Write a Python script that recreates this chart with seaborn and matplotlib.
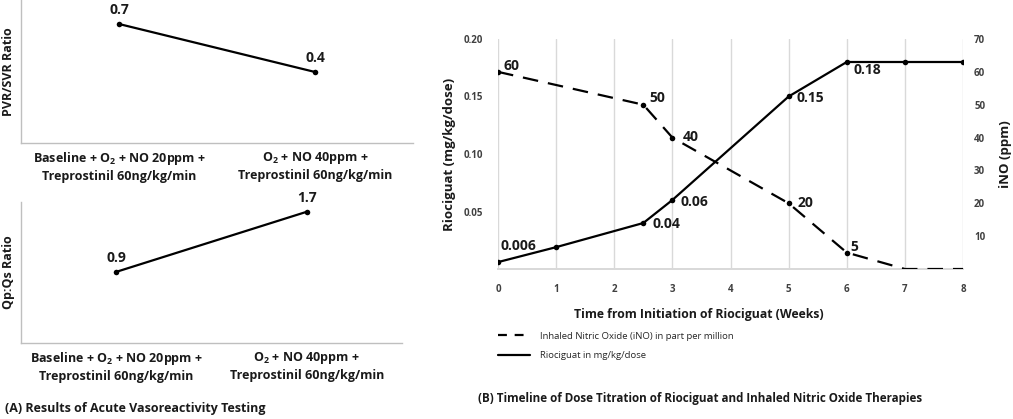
import matplotlib
matplotlib.use("Agg")
import matplotlib.pyplot as plt
import seaborn as sns
import pandas as pd
from matplotlib.lines import Line2D

sns.set_theme(style="white")
plt.rcParams['font.family'] = ['Open Sans', 'DejaVu Sans']

# ---------------- data ----------------
conditions = ["Baseline + O$_2$ + NO 20ppm +\nTreprostinil 60ng/kg/min",
              "O$_2$ + NO 40ppm +\nTreprostinil 60ng/kg/min"]
pvr_svr = [0.7, 0.4]
qp_qs = [0.9, 1.7]

weeks_rio = [0, 1, 2.5, 3, 5, 6, 7, 8]
riociguat = [0.006, 0.019, 0.04, 0.06, 0.15, 0.18, 0.18, 0.18]
rio_labels = ["0.006", "", "0.04", "0.06", "0.15", "0.18", "", ""]

weeks_ino = [0, 2.5, 3, 5, 6, 7, 8]
ino_ppm = [60, 50, 40, 20, 5, 0, 0]
ino_labels = ["60", "50", "40", "20", "5", "", ""]
ino_marked = [True, True, True, True, True, False, False]

x_ticks = [0, 1, 2, 3, 4, 5, 6, 7, 8]
left_ticks = [0.05, 0.10, 0.15, 0.20]
right_ticks = [10, 20, 30, 40, 50, 60, 70]

# ---------------- figure ----------------
W, H = 1013, 419
fig = plt.figure(figsize=(W / 100, H / 100), dpi=100)
plt.rcParams['mathtext.fontset'] = 'custom'
plt.rcParams['mathtext.rm'] = 'Open Sans:bold'
plt.rcParams['mathtext.bf'] = 'Open Sans:bold'
plt.rcParams['mathtext.default'] = 'bf'

def rect(x0, y0, x1, y1):
    return [x0 / W, 1 - y1 / H, (x1 - x0) / W, (y1 - y0) / H]

grey_spine = "#bfbfbf"
txt = "#1a1a1a"

# ---- Panel A ----
def panel_a(ax, vals, ylab, ylim):
    df = pd.DataFrame({"x": [0, 1], "y": vals})
    sns.lineplot(data=df, x="x", y="y", ax=ax, color="black", lw=1.6,
                 marker="o", markersize=4, markeredgewidth=0)
    for xi, v in zip(df["x"], df["y"]):
        ax.annotate(f"{v:.1f}", (xi, v), xytext=(0, 7), textcoords="offset pixels",
                    ha="center", va="bottom", fontsize=10, fontweight="bold", color=txt)
    ax.set_xlim(-0.5, 1.5)
    ax.set_ylim(*ylim)
    ax.set_xticks([0, 1])
    ax.set_xticklabels(conditions, fontsize=9, fontweight="bold", color=txt, linespacing=1.3)
    ax.set_yticks([])
    ax.set_xlabel("")
    ax.set_ylabel(ylab, fontsize=9, fontweight="bold", color=txt, labelpad=4)
    ax.tick_params(axis="x", length=0, pad=5)
    for s in ["top", "right"]:
        ax.spines[s].set_visible(False)
    for s in ["left", "bottom"]:
        ax.spines[s].set_color(grey_spine)
        ax.spines[s].set_linewidth(1.0)

ax1 = fig.add_axes(rect(21, 0, 413, 143))
panel_a(ax1, pvr_svr, "PVR/SVR Ratio", (-0.044, 0.85))
ax2 = fig.add_axes(rect(21, 202, 402, 343))
panel_a(ax2, qp_qs, "Qp:Qs Ratio", (-0.047, 1.83))

fig.text(5 / W, 1 - 408 / H, "(A) Results of Acute Vasoreactivity Testing",
         fontsize=9, fontweight="bold", color=txt, va="center", ha="left")

# ---- Panel B ----
axb = fig.add_axes(rect(498, 39, 963, 269))
axr = axb.twinx()

df_rio = pd.DataFrame({"week": weeks_rio, "dose": riociguat})
df_ino = pd.DataFrame({"week": weeks_ino, "ppm": ino_ppm})

sns.lineplot(data=df_rio, x="week", y="dose", ax=axb, color="black", lw=1.6,
             marker="o", markersize=4, markeredgewidth=0, zorder=3)
sns.lineplot(data=df_ino, x="week", y="ppm", ax=axr, color="black", lw=1.6,
             dashes=False, zorder=3)
axr.lines[0].set_dashes([7, 4.5])
df_ino_m = df_ino[ino_marked]
sns.scatterplot(data=df_ino_m, x="week", y="ppm", ax=axr, color="black", s=16,
                linewidth=0, zorder=4)

axb.set_xlim(0, 8)
axb.set_ylim(0, 0.20)
axr.set_ylim(0, 70)
axb.set_xticks(x_ticks)
axb.set_xticklabels([str(t) for t in x_ticks])
axb.set_yticks(left_ticks)
axb.set_yticklabels([f"{t:.2f}" for t in left_ticks])
axr.set_yticks(right_ticks)
axr.set_yticklabels([str(t) for t in right_ticks])

axb.grid(axis="x", color="#d9d9d9", lw=1.0)
axb.grid(axis="y", visible=False)
axr.grid(False)
for a in (axb, axr):
    for s in ["top", "left", "right"]:
        a.spines[s].set_visible(False)
    a.spines["bottom"].set_color("#d9d9d9")
axb.tick_params(axis="x", length=0, pad=11, labelsize=7, labelcolor="#404040")
axb.tick_params(axis="y", length=0, pad=11, labelsize=7, labelcolor="#404040")
axr.tick_params(axis="y", length=0, pad=8, labelsize=7, labelcolor="#404040")
for lab in axb.get_xticklabels() + axb.get_yticklabels() + axr.get_yticklabels():
    lab.set_fontweight("bold")

axb.set_xlabel("Time from Initiation of Riociguat (Weeks)", fontsize=8.8,
               fontweight="bold", color=txt)
axb.xaxis.set_label_coords((699 - 498) / 465, -39 / 230)
axb.set_ylabel("Riociguat (mg/kg/dose)", fontsize=9.5, fontweight="bold", color=txt, labelpad=5)
axr.set_ylabel("iNO (ppm)", fontsize=9.5, fontweight="bold", color=txt, labelpad=10)

# label offsets (pixels) - styling only
rio_off = [(2, 16, "left"), None, (9, -1, "left"), (8, -2, "left"), (8, -1, "left"),
           (7, -8, "left"), None, None]
ino_off = [(5, 6, "left"), (6, 7, "left"), (10, 1, "left"), (9, 0, "left"), (4, 6, "left"),
           None, None]
for xv, yv, lab, off in zip(weeks_rio, riociguat, rio_labels, rio_off):
    if lab:
        axb.annotate(lab, (xv, yv), xytext=off[:2], textcoords="offset pixels",
                     ha=off[2], va="center", fontsize=10, fontweight="bold", color=txt,
                     zorder=5)
for xv, yv, lab, off in zip(weeks_ino, ino_ppm, ino_labels, ino_off):
    if lab:
        axr.annotate(lab, (xv, yv), xytext=off[:2], textcoords="offset pixels",
                     ha=off[2], va="center", fontsize=10, fontweight="bold", color=txt,
                     zorder=5)

handles = [Line2D([], [], color="black", lw=1.6, dashes=[4, 3.5]),
           Line2D([], [], color="black", lw=1.6)]
labels = ["Inhaled Nitric Oxide (iNO) in part per million", "Riociguat in mg/kg/dose"]
fig.legend(handles, labels, loc="upper left", bbox_to_anchor=(489 / W, 1 - 323 / H),
           frameon=False, fontsize=6.8, handlelength=3.4, handletextpad=1.1,
           labelspacing=1.15, labelcolor="#262626")

fig.text(700 / W, 1 - 398 / H,
         "(B) Timeline of Dose Titration of Riociguat and Inhaled Nitric Oxide Therapies",
         fontsize=8.4, fontweight="bold", color=txt, va="center", ha="center")

fig.savefig("out.png", dpi=100)
